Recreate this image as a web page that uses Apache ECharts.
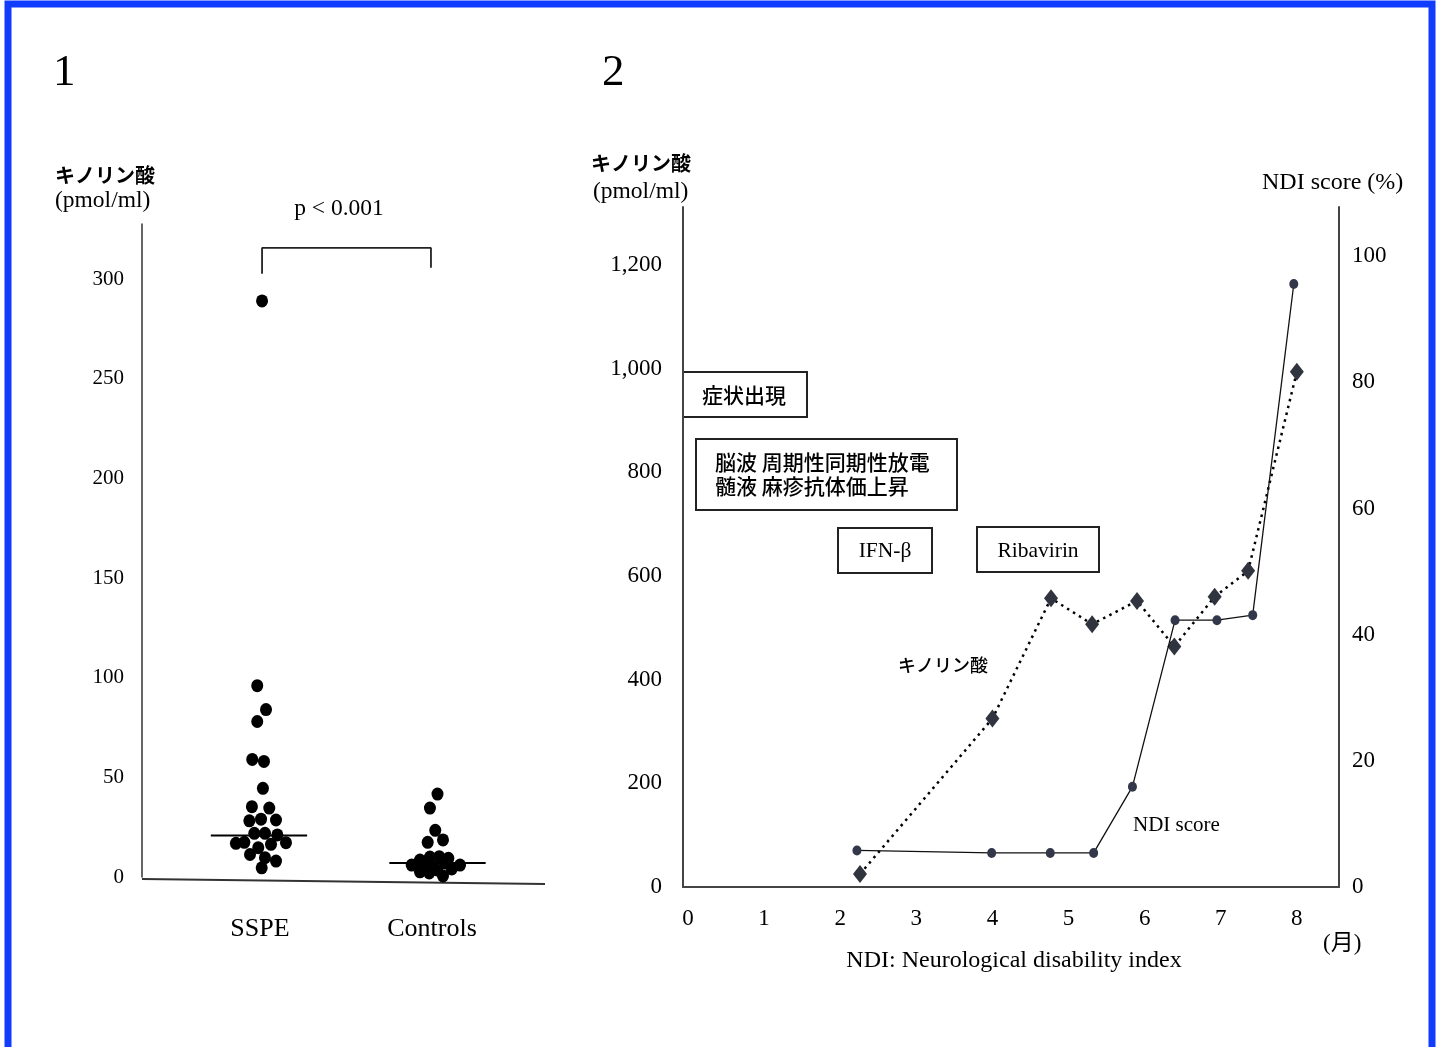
<!DOCTYPE html>
<html><head><meta charset="utf-8">
<script src="https://cdn.jsdelivr.net/npm/echarts@6/dist/echarts.min.js"></script>
<style>html,body{margin:0;padding:0;background:#fff}#c{width:1443px;height:1047px}</style>
</head><body><div id="c"></div>
<script>
// ---------- Panel 1 data ----------
const groupLabels = ['SSPE', 'Controls'];
const sspeValues = [289, 96, 84, 78, 59, 58, 44.5, 35.3, 34.6, 28.2, 29.0, 28.6, 21.9, 21.9, 21.1, 16.9, 17.4, 14.7, 16.4, 17.2, 11.3, 9.7, 8.0, 4.6];
const sspeJitter = [0.012, -0.016, 0.035, -0.016, -0.045, 0.023, 0.017, -0.047, 0.054, -0.062, 0.006, 0.093, -0.033, 0.029, 0.101, -0.140, -0.091, -0.010, 0.064, 0.151, -0.058, 0.029, 0.093, 0.010];
const controlValues = [41.6, 34.6, 23.4, 17.4, 18.6, 6.0, 8.5, 2.6, 10.0, 2.0, 10.2, 3.5, 0.5, 9.4, 4.0, 6.0, 6.5, 7.0, 5.0];
const controlJitter = [0.032, -0.012, 0.019, -0.025, 0.064, -0.118, -0.070, -0.070, -0.012, -0.016, 0.042, 0.029, 0.064, 0.095, 0.115, 0.163, -0.035, 0.076, 0.006];
const medians = [20.8, 7.0];
const medianOffsets = [-0.006, 0.032];
const bracketLevels = [302.6, 315.6, 305.6]; // left leg bottom, top bar, right leg bottom
const leftTicks = [0, 50, 100, 150, 200, 250, 300];

// ---------- Panel 2 data ----------
const monthTicks = [0, 1, 2, 3, 4, 5, 6, 7, 8];
const quinMonths = [2.26, 4.0, 4.77, 5.31, 5.90, 6.39, 6.92, 7.36, 8.0];
const quinValues = [25, 325, 557, 507, 552, 464, 560, 610, 994];
const ndiMonths = [2.22, 3.99, 4.76, 5.33, 5.84, 6.40, 6.95, 7.42, 7.96];
const ndiValues = [5.8, 5.4, 5.4, 5.4, 15.9, 42.3, 42.3, 43.1, 95.6];

const SERIF = 'Liberation Serif, Noto Sans CJK JP';
const CJK = 'Noto Sans CJK JP';

const sspeData = sspeValues.map((v, i) => [1 + sspeJitter[i], v]);
const ctrlData = controlValues.map((v, i) => [2 + controlJitter[i], v]);
const medianSeries = medians.map((m, i) => ({
  type: 'line', xAxisIndex: 0, yAxisIndex: 0, symbol: 'none', silent: true,
  lineStyle: { color: '#000', width: 2 },
  data: [[i + 1 + medianOffsets[i] - 0.28, m], [i + 1 + medianOffsets[i] + 0.28, m]],
  z: 1
}));

function txt(x, y, text, size, family, opts) {
  opts = opts || {};
  return {
    type: 'text', x: x, y: y, silent: true,
    style: {
      text: text, fontSize: size, fontFamily: family, fontWeight: opts.weight || 'normal',
      fill: '#000', align: opts.align || 'left', textAlign: opts.align || 'left',
      verticalAlign: 'middle', textVerticalAlign: 'middle', lineHeight: opts.lh || size
    }
  };
}
function box(x, y, w, h) {
  return { type: 'rect', silent: true, shape: { x: x, y: y, width: w, height: h },
    style: { fill: 'none', stroke: '#222', lineWidth: 2 } };
}

const chart = echarts.init(document.getElementById('c'));
chart.setOption({
  animation: false,
  backgroundColor: '#fff',
  grid: [
    { left: 142, top: 224, width: 403, height: 653 },
    { left: 683, top: 207, width: 656, height: 680 }
  ],
  xAxis: [
    { gridIndex: 0, type: 'value', min: 0.314, max: 2.657,
      axisLine: { show: false }, axisTick: { show: false }, splitLine: { show: false },
      axisLabel: { customValues: [1, 2], formatter: v => groupLabels[Math.round(v) - 1] || '',
        fontFamily: SERIF, fontSize: 26, color: '#000', margin: 39 } },
    { gridIndex: 1, type: 'value', min: -0.0657, max: 8.554,
      axisLine: { show: true, onZero: false, lineStyle: { color: '#444', width: 2 } },
      axisTick: { show: false }, splitLine: { show: false },
      axisLabel: { customValues: monthTicks, fontFamily: SERIF, fontSize: 23, color: '#000', margin: 20 } }
  ],
  yAxis: [
    { gridIndex: 0, type: 'value', min: 0, max: 327.6,
      axisLine: { show: true, onZero: false, lineStyle: { color: '#333', width: 1.5 } },
      axisTick: { show: false }, splitLine: { show: false },
      axisLabel: { customValues: leftTicks, fontFamily: SERIF, fontSize: 21, color: '#000', margin: 18 } },
    { gridIndex: 1, type: 'value', min: 0, max: 1312, interval: 200,
      axisLine: { show: true, onZero: false, lineStyle: { color: '#444', width: 2 } },
      axisTick: { show: false }, splitLine: { show: false },
      axisLabel: { showMaxLabel: false, fontFamily: SERIF, fontSize: 23, color: '#000', margin: 21,
        formatter: v => v.toLocaleString('en-US') } },
    { gridIndex: 1, type: 'value', position: 'right', min: 0, max: 107.8, interval: 20,
      axisLine: { show: true, onZero: false, lineStyle: { color: '#444', width: 2 } },
      axisTick: { show: false }, splitLine: { show: false },
      axisLabel: { showMaxLabel: false, fontFamily: SERIF, fontSize: 23, color: '#000', margin: 13 } }
  ],
  series: [
    { type: 'scatter', xAxisIndex: 0, yAxisIndex: 0, symbol: 'circle', symbolSize: [12, 13],
      itemStyle: { color: '#000', opacity: 1 }, data: sspeData, z: 3 },
    { type: 'scatter', xAxisIndex: 0, yAxisIndex: 0, symbol: 'circle', symbolSize: [12, 13],
      itemStyle: { color: '#000', opacity: 1 }, data: ctrlData, z: 3 },
    ...medianSeries,
    { type: 'line', xAxisIndex: 0, yAxisIndex: 0, symbol: 'none', silent: true,
      lineStyle: { color: '#222', width: 1.8 },
      data: [[1.012, bracketLevels[0]], [1.012, bracketLevels[1]], [1.994, bracketLevels[1]], [1.994, bracketLevels[2]]] },
    { type: 'line', name: 'キノリン酸', xAxisIndex: 1, yAxisIndex: 1, symbol: 'diamond', symbolSize: [14, 18],
      itemStyle: { color: '#30343f', opacity: 1 }, lineStyle: { color: '#000', width: 2.5, type: [2.5, 4.5] },
      data: quinMonths.map((m, i) => [m, quinValues[i]]), z: 3 },
    { type: 'line', name: 'NDI score', xAxisIndex: 1, yAxisIndex: 2, symbol: 'circle', symbolSize: [9, 10],
      itemStyle: { color: '#33374a', opacity: 1 }, lineStyle: { color: '#111', width: 1.3 },
      data: ndiMonths.map((m, i) => [m, ndiValues[i]]), z: 4 }
  ],
  graphic: [
    { type: 'rect', silent: true, shape: { x: 8, y: 4, width: 1424, height: 1200 },
      style: { fill: 'none', stroke: '#0f3cff', lineWidth: 7 } },
    { type: 'line', silent: true, shape: { x1: 142, y1: 879, x2: 545, y2: 884 },
      style: { stroke: '#333', lineWidth: 2 } },
    txt(53, 73, '1', 45, SERIF),
    txt(602, 73, '2', 45, SERIF),
    txt(55, 175, 'キノリン酸', 20, CJK, { weight: 'bold' }),
    txt(55, 201, '(pmol/ml)', 23.5, SERIF),
    txt(339, 209, 'p < 0.001', 23.5, SERIF, { align: 'center' }),
    txt(591, 163, 'キノリン酸', 20, CJK, { weight: 'bold' }),
    txt(593, 192, '(pmol/ml)', 23.5, SERIF),
    txt(1262, 183, 'NDI score (%)', 24, SERIF),
    txt(1323, 944, '(月)', 23, SERIF),
    txt(1014, 961, 'NDI: Neurological disability index', 24, SERIF, { align: 'center' }),
    txt(898, 665, 'キノリン酸', 18, CJK, { weight: 500 }),
    txt(1133, 825, 'NDI score', 21, SERIF),
    box(683, 372, 124, 45),
    txt(702, 395, '症状出現', 21, CJK, { weight: 500 }),
    box(696, 439, 261, 71),
    txt(715, 462, '脳波 周期性同期性放電', 21, CJK, { weight: 500 }),
    txt(715, 486, '髄液 麻疹抗体価上昇', 21, CJK, { weight: 500 }),
    box(838, 528, 94, 45),
    txt(885, 551, 'IFN-β', 21.5, SERIF, { align: 'center' }),
    box(977, 527, 122, 45),
    txt(1038, 551, 'Ribavirin', 21.5, SERIF, { align: 'center' })
  ]
});
</script></body></html>
